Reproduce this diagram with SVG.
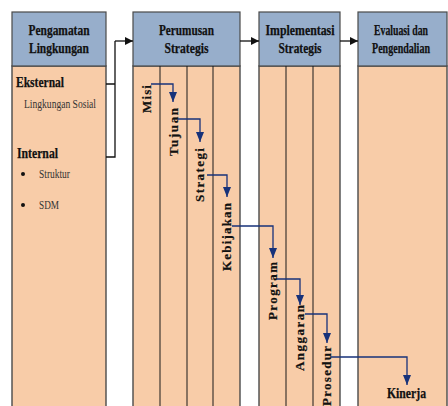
<svg xmlns="http://www.w3.org/2000/svg" width="448" height="406" viewBox="0 0 448 406">
<style>
.hdr{fill:#97AECB;stroke:#4a4a4a;stroke-width:1.2}
.body{fill:#F8CCA8;stroke:#4a4a4a;stroke-width:1.4}
.sub{stroke:#1a1a1a;stroke-width:1;fill:none}
text{font-family:'Liberation Serif','Times New Roman',Times,serif;fill:#111}
.ht{font-weight:bold;font-size:15px;text-anchor:middle;stroke:#111;stroke-width:0.25}
.bt{font-weight:bold;font-size:15px;stroke:#111;stroke-width:0.25}
.nt{font-size:12px;fill:#333}
.rt{font-weight:bold;font-size:13px;stroke:#111;stroke-width:0.2}
.main{stroke:#111;stroke-width:1.3;fill:none}
.flow{stroke:#17327a;stroke-width:1.3;fill:none;marker-end:url(#na)}
</style>
<defs>
<marker id="ba" markerUnits="userSpaceOnUse" markerWidth="10" markerHeight="10" refX="8" refY="4" orient="auto"><path d="M0,0 L8,4 L0,8 Z" fill="#111"/></marker>
<marker id="na" markerUnits="userSpaceOnUse" markerWidth="10" markerHeight="12" refX="4" refY="10" orient="0"><path d="M0,0 L4,10 L8,0 Z" fill="#17327a"/></marker>
</defs>

<g id="pengamatan">
<rect class="body" x="12" y="66" width="94" height="345"/>
<rect class="hdr" x="12" y="12" width="94" height="54"/>
<text class="ht" x="59" y="35" textLength="61" lengthAdjust="spacingAndGlyphs">Pengamatan</text>
<text class="ht" x="59" y="53" textLength="60" lengthAdjust="spacingAndGlyphs">Lingkungan</text>
<text class="bt" x="16" y="87" textLength="48" lengthAdjust="spacingAndGlyphs">Eksternal</text>
<text class="nt" x="24" y="108" textLength="72" lengthAdjust="spacingAndGlyphs">Lingkungan Sosial</text>
<text class="bt" x="17" y="158" textLength="41" lengthAdjust="spacingAndGlyphs">Internal</text>
<circle cx="23" cy="174" r="2" fill="#111"/>
<text class="nt" x="39" y="178" textLength="31" lengthAdjust="spacingAndGlyphs">Struktur</text>
<circle cx="23" cy="205" r="2" fill="#111"/>
<text class="nt" x="39" y="209" textLength="20" lengthAdjust="spacingAndGlyphs">SDM</text>
</g>

<g id="perumusan">
<rect class="body" x="133" y="66" width="107" height="345"/>
<rect class="hdr" x="133" y="12" width="107" height="54"/>
<line class="sub" x1="160" y1="66" x2="160" y2="406"/>
<line class="sub" x1="187" y1="66" x2="187" y2="406"/>
<line class="sub" x1="213" y1="66" x2="213" y2="406"/>
<text class="ht" x="186.5" y="35" textLength="55" lengthAdjust="spacingAndGlyphs">Perumusan</text>
<text class="ht" x="186.5" y="53" textLength="44" lengthAdjust="spacingAndGlyphs">Strategis</text>
<text class="rt" transform="translate(150.5,113) rotate(-90)" textLength="28" lengthAdjust="spacing">Misi</text>
<text class="rt" transform="translate(177.5,156) rotate(-90)" textLength="48" lengthAdjust="spacing">Tujuan</text>
<text class="rt" transform="translate(204,202) rotate(-90)" textLength="54" lengthAdjust="spacing">Strategi</text>
<text class="rt" transform="translate(230.5,271) rotate(-90)" textLength="68" lengthAdjust="spacing">Kebijakan</text>
</g>

<g id="implementasi">
<rect class="body" x="259" y="66" width="81" height="345"/>
<rect class="hdr" x="259" y="12" width="81" height="54"/>
<line class="sub" x1="286" y1="66" x2="286" y2="406"/>
<line class="sub" x1="313" y1="66" x2="313" y2="406"/>
<text class="ht" x="300" y="35" textLength="69" lengthAdjust="spacingAndGlyphs">Implementasi</text>
<text class="ht" x="300" y="53" textLength="43" lengthAdjust="spacingAndGlyphs">Strategis</text>
<text class="rt" transform="translate(276.5,320) rotate(-90)" textLength="58" lengthAdjust="spacing">Program</text>
<text class="rt" transform="translate(303.5,371) rotate(-90)" textLength="66" lengthAdjust="spacing">Anggaran</text>
<text class="rt" transform="translate(330.5,406) rotate(-90)" textLength="60" lengthAdjust="spacing">Prosedur</text>
</g>

<g id="evaluasi">
<rect class="body" x="358" y="66" width="89" height="345"/>
<rect class="hdr" x="358" y="12" width="89" height="54"/>
<text class="ht" x="401" y="35" textLength="54" lengthAdjust="spacingAndGlyphs">Evaluasi dan</text>
<text class="ht" x="401" y="53" textLength="58" lengthAdjust="spacingAndGlyphs">Pengendalian</text>
<text class="bt" x="387" y="398" textLength="39" lengthAdjust="spacingAndGlyphs">Kinerja</text>
</g>

<g id="connectors">
<path class="main" d="M106,84 H115 M106,157 H115 V41"/>
<path class="main" d="M115,41 H133" marker-end="url(#ba)"/>
<path class="main" d="M240,41 H259" marker-end="url(#ba)"/>
<path class="main" d="M340,41 H358" marker-end="url(#ba)"/>
<path class="flow" d="M151,84 H173 V102"/>
<path class="flow" d="M178,119 H200 V142"/>
<path class="flow" d="M207,175 H227 V197"/>
<path class="flow" d="M232,226 H273 V258"/>
<path class="flow" d="M277,279 H300 V305"/>
<path class="flow" d="M305,314 H327 V343"/>
<path class="flow" d="M331,357 H407 V385"/>
</g>
</svg>
